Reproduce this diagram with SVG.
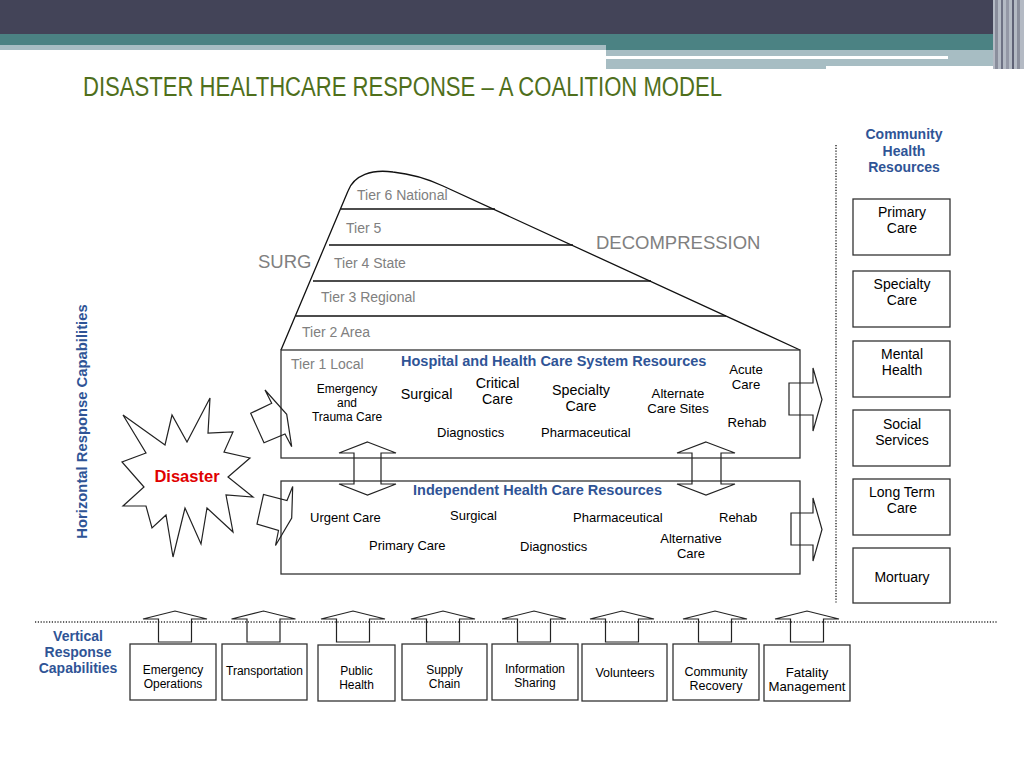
<svg xmlns="http://www.w3.org/2000/svg" xmlns:xlink="http://www.w3.org/1999/xlink" width="1024" height="768" viewBox="0 0 1024 768">
<style>
text{font-family:"Liberation Sans",Arial,sans-serif;}
.t{fill:#000;}
.c{text-anchor:middle;}
.tier{fill:#808080;font-size:14px;}
.blue{fill:#2f5496;font-weight:bold;}
.box{fill:none;stroke:#333;stroke-width:1.3;}
.ln{fill:none;stroke:#111;stroke-width:1.3;}
.arr{fill:none;stroke:#222;stroke-width:1.2;stroke-linejoin:miter;}
.dot{fill:none;stroke:#333;stroke-width:1.5;stroke-dasharray:1.2 1.6;}
</style>
<defs>
<polygon id="uparrow" points="-16.5,642 -16.5,619 -32,619 0,611 32,619 16.5,619 16.5,642"/>
</defs>
<rect width="1024" height="768" fill="#fff"/>
<!-- header -->
<g id="header">
<rect x="0" y="0" width="1024" height="34" fill="#434458"/>
<rect x="0" y="34" width="1024" height="16" fill="#4b8283"/>
<rect x="0" y="45" width="606" height="5" fill="#a7bdc3"/>
<rect x="606" y="50" width="400" height="16" fill="#a7bdc3"/>
<rect x="606" y="50" width="220" height="19" fill="#a7bdc3"/>
<rect x="606" y="56" width="342" height="3" fill="#fff"/>
<rect x="993" y="0" width="31" height="69" fill="#b4bac4"/>
<rect x="995" y="0" width="3" height="69" fill="#8a8e9c"/>
<rect x="1001" y="0" width="2" height="69" fill="#6e7284"/>
<rect x="1006" y="0" width="3" height="69" fill="#9498a6"/>
<rect x="1012" y="0" width="2" height="69" fill="#5f6276"/>
<rect x="1017" y="0" width="3" height="69" fill="#8a8e9c"/>
<text x="83" y="96" font-size="27" fill="#4f6f1c" textLength="639" lengthAdjust="spacingAndGlyphs" style="font-family:'Liberation Sans Narrow','Liberation Sans',sans-serif">DISASTER HEALTHCARE RESPONSE – A COALITION MODEL</text>
</g>

<!-- pyramid of tiers -->
<g id="tiers">
<path class="ln" d="M281,350 L348,191 C354,175 372,169 393,172 C412,174 428,179 443,186 L800,350"/>
<line class="ln" x1="341" y1="209" x2="495" y2="209"/>
<line class="ln" x1="329" y1="245" x2="573" y2="245"/>
<line class="ln" x1="313" y1="281" x2="651" y2="281"/>
<line class="ln" x1="296" y1="316" x2="726" y2="316"/>
<text class="tier" x="357" y="200">Tier 6 National</text>
<text class="tier" x="346" y="233">Tier 5</text>
<text class="tier" x="334" y="268">Tier 4 State</text>
<text class="tier" x="321" y="302">Tier 3 Regional</text>
<text class="tier" x="302" y="337">Tier 2 Area</text>
<text x="258" y="268" font-size="18.5" fill="#808080">SURG</text>
<text x="596" y="249" font-size="18.5" fill="#808080">DECOMPRESSION</text>
</g>

<!-- hospital box -->
<g id="hospital">
<rect class="box" x="281" y="350" width="519" height="108"/>
<text class="tier" x="291" y="369">Tier 1 Local</text>
<text class="blue" x="401" y="366" font-size="14.5">Hospital and Health Care System Resources</text>
<g class="t c" font-size="12">
<text x="347" y="393">Emergency</text>
<text x="347" y="407">and</text>
<text x="347" y="421">Trauma Care</text>
</g>
<g class="t c" font-size="14.3">
<text x="426.5" y="399">Surgical</text>
<text x="497.5" y="388">Critical</text>
<text x="497.5" y="404">Care</text>
<text x="581" y="395">Specialty</text>
<text x="581" y="411">Care</text>
</g>
<g class="t c" font-size="13.2">
<text x="678" y="398">Alternate</text>
<text x="678" y="413">Care Sites</text>
<text x="746" y="374">Acute</text>
<text x="746" y="389">Care</text>
<text x="747" y="427">Rehab</text>
</g>
<g class="t" font-size="13">
<text x="437" y="437">Diagnostics</text>
<text x="541" y="437">Pharmaceutical</text>
</g>
</g>

<!-- independent box -->
<g id="independent">
<rect class="box" x="281" y="481" width="519" height="93"/>
<text class="blue" x="413" y="495" font-size="14.5">Independent Health Care Resources</text>
<g class="t" font-size="13">
<text x="310" y="522">Urgent Care</text>
<text x="450" y="520">Surgical</text>
<text x="573" y="522">Pharmaceutical</text>
<text x="719" y="522">Rehab</text>
<text x="369" y="550">Primary Care</text>
<text x="520" y="551">Diagnostics</text>
<text class="c" x="691" y="543">Alternative</text>
<text class="c" x="691" y="558">Care</text>
</g>
</g>

<!-- disaster -->
<g id="disaster">
<polygon fill="#fff" stroke="#222" stroke-width="1.2" points="123,415 165,445 172,415 187,442 210,398 208,433 233,432 224,452 250,458 228,477 253,497 226,495 233,532 207,508 201,544 185,508 173,557 166,515 152,528 146,506 123,506 144,487 122,462 146,453"/>
<text x="187" y="482" font-size="16.5" font-weight="bold" fill="#e00000" text-anchor="middle">Disaster</text>
</g>

<text class="blue" font-size="14.8" text-anchor="middle" transform="translate(86.5,421.5) rotate(-90)">Horizontal Response Capabilities</text>

<!-- community health resources -->
<g id="community-title" class="blue c" font-size="14">
<text x="904" y="139">Community</text>
<text x="904" y="156">Health</text>
<text x="904" y="172">Resources</text>
</g>
<line class="dot" x1="836" y1="145" x2="836" y2="603"/>
<g class="t c" font-size="14">
<g id="r-primary"><rect class="box" x="853" y="199" width="97" height="56"/><text x="902" y="217">Primary</text><text x="902" y="233">Care</text></g>
<g id="r-specialty"><rect class="box" x="853" y="271" width="97" height="56"/><text x="902" y="289">Specialty</text><text x="902" y="305">Care</text></g>
<g id="r-mental"><rect class="box" x="853" y="341" width="97" height="56"/><text x="902" y="359">Mental</text><text x="902" y="375">Health</text></g>
<g id="r-social"><rect class="box" x="853" y="410" width="97" height="56"/><text x="902" y="429">Social</text><text x="902" y="445">Services</text></g>
<g id="r-longterm"><rect class="box" x="853" y="479" width="97" height="56"/><text x="902" y="497">Long Term</text><text x="902" y="513">Care</text></g>
<g id="r-mortuary"><rect class="box" x="853" y="548" width="97" height="55"/><text x="902" y="582">Mortuary</text></g>
</g>

<!-- vertical response capabilities -->
<line class="dot" x1="35" y1="622" x2="998" y2="622"/>
<g id="vertical-title" class="blue c" font-size="14">
<text x="78" y="641">Vertical</text>
<text x="78" y="657">Response</text>
<text x="78" y="673">Capabilities</text>
</g>
<g class="t c" font-size="12">
<g id="v-emergency"><rect class="box" x="130" y="644" width="86" height="56"/><text x="173" y="674">Emergency</text><text x="173" y="688">Operations</text></g>
<g id="v-transport"><rect class="box" x="222" y="644" width="85" height="56"/><text x="264.5" y="675">Transportation</text></g>
<g id="v-public"><rect class="box" x="318" y="645" width="77" height="56"/><text x="356.5" y="675">Public</text><text x="356.5" y="689">Health</text></g>
<g id="v-supply"><rect class="box" x="402" y="644" width="85" height="56"/><text x="444.5" y="674">Supply</text><text x="444.5" y="688">Chain</text></g>
<g id="v-info"><rect class="box" x="492" y="644" width="86" height="56"/><text x="535" y="673">Information</text><text x="535" y="687">Sharing</text></g>
<g id="v-volunteers"><rect class="box" x="582" y="644" width="85" height="57"/><text x="625" y="677" font-size="12.5">Volunteers</text></g>
<g id="v-community"><rect class="box" x="673" y="644" width="86" height="56"/><text x="716" y="676" font-size="12.5">Community</text><text x="716" y="690" font-size="12.5">Recovery</text></g>
<g id="v-fatality"><rect class="box" x="764" y="645" width="86" height="56"/><text x="807" y="677" font-size="13.2">Fatality</text><text x="807" y="691" font-size="13.2">Management</text></g>
</g>

<!-- connectors -->
<g id="connectors">
<polygon class="arr" points="367.5,442 396,453 381,453 381,484 396,484 367.5,495 339,484 354,484 354,453 339,453"/>
<polygon class="arr" points="706,442 735,453 721,453 721,484 735,484 706,495 677,484 692,484 692,453 677,453"/>
<polygon class="arr" points="789,383 813,383 813,368 822,399.5 813,431 813,415 789,415"/>
<polygon class="arr" points="791,513 813,513 813,498 822,529.5 813,561 813,545 791,545"/>
<polygon class="arr" points="265,390 286.7,414.3 291.7,446.7 285,434 264,442.7 250.7,413.3 271.7,403.3"/>
<polygon class="arr" points="292.7,486.5 291.7,518 275.5,545.5 278.5,530.5 257,524 263.5,494.5 287,500.5"/>
<use href="#uparrow" xlink:href="#uparrow" class="arr" x="175"/>
<use href="#uparrow" xlink:href="#uparrow" class="arr" x="263.5"/>
<use href="#uparrow" xlink:href="#uparrow" class="arr" x="353"/>
<use href="#uparrow" xlink:href="#uparrow" class="arr" x="443"/>
<use href="#uparrow" xlink:href="#uparrow" class="arr" x="534"/>
<use href="#uparrow" xlink:href="#uparrow" class="arr" x="622"/>
<use href="#uparrow" xlink:href="#uparrow" class="arr" x="715"/>
<use href="#uparrow" xlink:href="#uparrow" class="arr" x="807"/>
</g>
</svg>
